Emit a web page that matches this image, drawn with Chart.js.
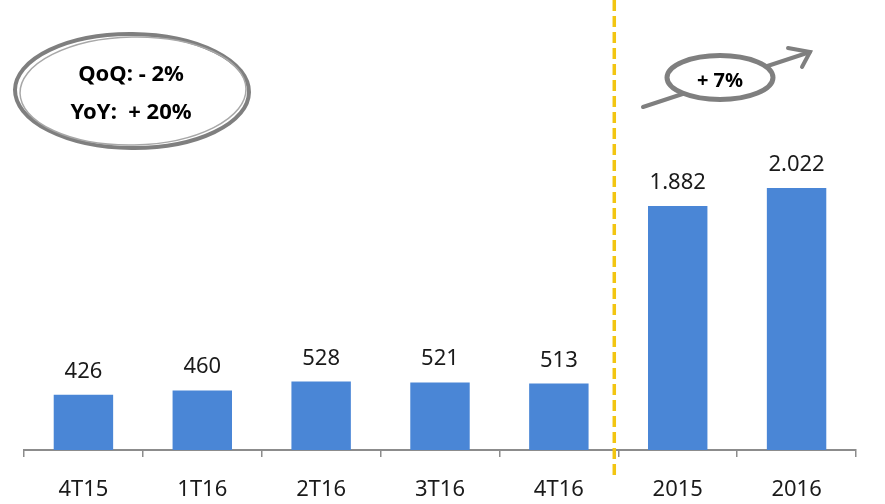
<!DOCTYPE html>
<html>
<head>
<meta charset="utf-8">
<script src="https://cdn.jsdelivr.net/npm/chart.js@4.4.0/dist/chart.umd.min.js"></script>
<style>
  html, body { margin: 0; padding: 0; background: #fff; }
  #wrap { width: 885px; height: 504px; }
</style>
</head>
<body>
<div id="wrap"><canvas id="chart" width="885" height="504"></canvas></div>
<script>
// periods + revenue values
let periods = ["4T15", "1T16", "2T16", "3T16", "4T16", "2015", "2016"];
let values = [426, 460, 528, 521, 513, 1882, 2022];
let valueLabels = ["426", "460", "528", "521", "513", "1.882", "2.022"];
let bubbleLeft = ["QoQ: - 2%", "YoY:  + 20%"];
let bubbleRight = "+ 7%";

let fontName = "'Noto Sans', 'Open Sans', sans-serif";

/**
 * value labels, dashed divider, ellipses
 **/
let extras = {
    id: "extras",
    afterDatasetsDraw(chart) {
        let ctx = chart.ctx;
        let meta = chart.getDatasetMeta(0);
        let x = chart.scales.x;

        // value labels above bars
        ctx.save();
        ctx.fillStyle = "#1a1a1a";
        ctx.font = "22px " + fontName;
        ctx.textAlign = "center";
        ctx.textBaseline = "alphabetic";
        meta.data.forEach((bar, i) => {
            ctx.fillText(valueLabels[i], bar.x, bar.y - 17);
        });
        ctx.restore();

        // dashed divider between 4T16 and 2015
        let divX = (x.getPixelForValue(4) + x.getPixelForValue(5)) / 2 - 4;
        ctx.save();
        ctx.strokeStyle = "#F2C511";
        ctx.lineWidth = 3.5;
        ctx.setLineDash([11, 5]);
        ctx.beginPath();
        ctx.moveTo(divX, 0);
        ctx.lineTo(divX, 476);
        ctx.stroke();
        ctx.restore();

        // left ellipse (sketchy double stroke)
        ctx.save();
        ctx.strokeStyle = "#7f7f7f";
        ctx.lineWidth = 4;
        ctx.beginPath();
        ctx.ellipse(132, 91, 117, 57, 0.01, 0, Math.PI * 2);
        ctx.stroke();
        ctx.strokeStyle = "#a8a8a8";
        ctx.lineWidth = 1.5;
        ctx.beginPath();
        ctx.ellipse(133, 91, 113, 54, -0.02, 0, Math.PI * 2);
        ctx.stroke();
        ctx.fillStyle = "#000";
        ctx.font = "bold 22px " + fontName;
        ctx.textAlign = "center";
        ctx.textBaseline = "middle";
        ctx.fillText(bubbleLeft[0], 131, 75);
        ctx.fillText(bubbleLeft[1], 131, 113);
        ctx.restore();

        // arrow + right ellipse
        ctx.save();
        ctx.strokeStyle = "#7f7f7f";
        ctx.lineWidth = 4;
        ctx.lineCap = "round";
        ctx.beginPath();
        ctx.moveTo(643, 107);
        ctx.lineTo(810, 52);
        ctx.stroke();
        ctx.beginPath();
        ctx.moveTo(788, 48);
        ctx.lineTo(810, 52);
        ctx.lineTo(802, 67);
        ctx.stroke();
        ctx.fillStyle = "#fff";
        ctx.lineWidth = 5;
        ctx.beginPath();
        ctx.ellipse(720, 77.5, 53, 22, 0, 0, Math.PI * 2);
        ctx.fill();
        ctx.stroke();
        ctx.fillStyle = "#000";
        ctx.font = "bold 20px " + fontName;
        ctx.textAlign = "center";
        ctx.textBaseline = "middle";
        ctx.fillText(bubbleRight, 720, 81);
        ctx.restore();
    }
};

new Chart(document.querySelector("#chart"), {
    type: "bar",
    data: {
        labels: periods,
        datasets: [{
            data: values,
            backgroundColor: "#4A86D6",
            categoryPercentage: 1,
            barPercentage: 0.5
        }]
    },
    options: {
        responsive: false,
        animation: false,
        layout: { padding: { left: 24, right: 29, top: 0, bottom: 0 } },
        plugins: {
            legend: { display: false },
            tooltip: { enabled: false }
        },
        scales: {
            y: {
                display: false,
                min: 0,
                max: 3472
            },
            x: {
                afterFit: function (scale) {
                    scale.height = 54;
                },
                grid: {
                    drawOnChartArea: false,
                    drawTicks: true,
                    tickLength: 7,
                    color: "#8c8c8c",
                    lineWidth: 1.5
                },
                border: { color: "#8c8c8c", width: 2 },
                ticks: {
                    color: "#1a1a1a",
                    padding: 20,
                    font: { size: 22, family: fontName }
                }
            }
        }
    },
    plugins: [extras]
});
</script>
</body>
</html>
